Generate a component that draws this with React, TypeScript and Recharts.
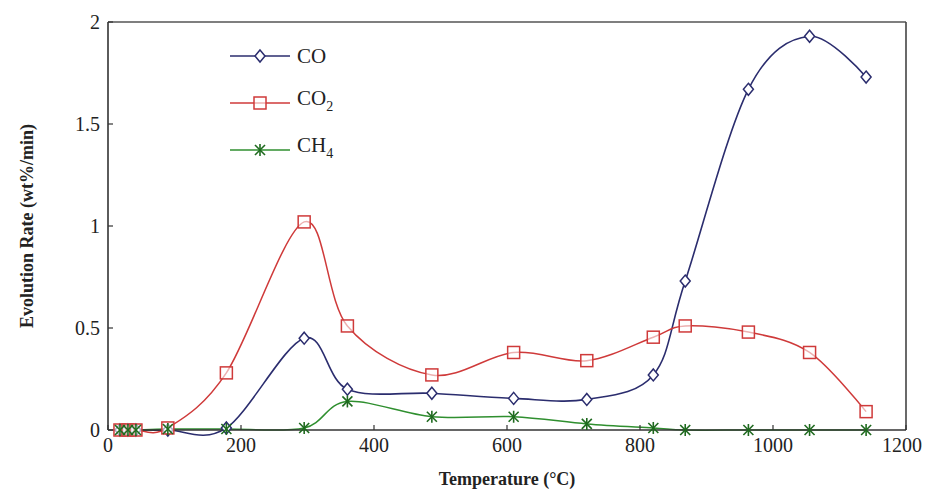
import React from 'react';
import { LineChart, Line, XAxis, YAxis, ReferenceLine, Legend } from 'recharts';

const temperatures = [18, 30, 42, 90, 178, 295, 360, 487, 610, 720, 820, 868, 963, 1055, 1140];
const coValues = [0, 0, 0, 0, 0.01, 0.45, 0.2, 0.18, 0.155, 0.15, 0.27, 0.73, 1.67, 1.93, 1.73];
const co2Values = [0, 0, 0, 0.01, 0.28, 1.02, 0.51, 0.27, 0.38, 0.34, 0.455, 0.51, 0.48, 0.38, 0.09];
const ch4Values = [0, 0, 0, 0.005, 0.005, 0.01, 0.14, 0.065, 0.065, 0.03, 0.01, 0, 0, 0, 0];
const xTicks = [0, 200, 400, 600, 800, 1000, 1200];
const yTicks = [0, 0.5, 1, 1.5, 2];
const legendOrder = ['co', 'co2', 'ch4'];

const data = temperatures.map((t, i) => ({ t, co: coValues[i], co2: co2Values[i], ch4: ch4Values[i] }));

const FONT = '"Liberation Serif", "Times New Roman", serif';
const CO_COLOR = '#2b2d6e';
const CO2_COLOR = '#cf3a3a';
const CH4_COLOR = '#2f8f2f';
const CH4_MARK = '#1f6a1f';
const CHART_W = 915;

class CardinalCurve {
  _context: any; _k: number; _line: number = NaN; _point = 0;
  _x0 = NaN; _x1 = NaN; _x2 = NaN; _y0 = NaN; _y1 = NaN; _y2 = NaN;
  constructor(context: any, tension: number) { this._context = context; this._k = (1 - tension) / 6; }
  areaStart() { this._line = 0; }
  areaEnd() { this._line = NaN; }
  lineStart() { this._x0 = this._x1 = this._x2 = this._y0 = this._y1 = this._y2 = NaN; this._point = 0; }
  seg(x: number, y: number) {
    this._context.bezierCurveTo(
      this._x1 + this._k * (this._x2 - this._x0),
      this._y1 + this._k * (this._y2 - this._y0),
      this._x2 + this._k * (this._x1 - x),
      this._y2 + this._k * (this._y1 - y),
      this._x2, this._y2);
  }
  lineEnd() {
    switch (this._point) {
      case 2: this._context.lineTo(this._x2, this._y2); break;
      case 3: this.seg(this._x1, this._y1); break;
    }
    if (this._line || (this._line !== 0 && this._point === 1)) this._context.closePath();
    this._line = 1 - this._line;
  }
  point(x: number, y: number) {
    x = +x; y = +y;
    switch (this._point) {
      case 0: this._point = 1; this._line ? this._context.lineTo(x, y) : this._context.moveTo(x, y); break;
      case 1: this._point = 2; this._x1 = x; this._y1 = y; break;
      case 2: this._point = 3; this.seg(x, y); break;
      default: this.seg(x, y); break;
    }
    this._x0 = this._x1; this._x1 = this._x2; this._x2 = x;
    this._y0 = this._y1; this._y1 = this._y2; this._y2 = y;
  }
}
const smoothCurve: any = (context: any) => new CardinalCurve(context, 0);

const Diamond = ({ cx, cy }: any) => (
  <path d={`M${cx},${cy - 6} L${cx + 5},${cy} L${cx},${cy + 6} L${cx - 5},${cy} Z`} fill="#fff" stroke={CO_COLOR} strokeWidth={1.5} />
);
const Square = ({ cx, cy }: any) => (
  <rect x={cx - 6} y={cy - 6} width={12} height={12} fill="#fff" fillOpacity={0.6} stroke={CO2_COLOR} strokeWidth={1.5} />
);
const Star = ({ cx, cy }: any) => (
  <g stroke={CH4_MARK} strokeWidth={1.6}>
    <line x1={cx - 5} y1={cy - 5} x2={cx + 5} y2={cy + 5} />
    <line x1={cx - 5} y1={cy + 5} x2={cx + 5} y2={cy - 5} />
    <line x1={cx} y1={cy - 6} x2={cx} y2={cy + 6} />
  </g>
);

const legendLabel = (key: string) => {
  if (key === 'co2') return <span>CO<sub style={{ fontSize: 14, verticalAlign: -6 }}>2</sub></span>;
  if (key === 'ch4') return <span>CH<sub style={{ fontSize: 14, verticalAlign: -6 }}>4</sub></span>;
  return <span>CO</span>;
};

const LegendContent = (props: any) => {
  const payload = (props.payload || []).slice().sort(
    (a: any, b: any) => legendOrder.indexOf(a.dataKey) - legendOrder.indexOf(b.dataKey));
  return (
    <div style={{ fontFamily: FONT, fontSize: 21, color: '#222' }}>
      {payload.map((entry: any) => {
        const key = entry.dataKey;
        const color = entry.color;
        return (
          <div key={key} style={{ display: 'flex', alignItems: 'center', height: 47 }}>
            <svg width={64} height={20} style={{ overflow: 'visible' }}>
              <line x1={2} y1={10} x2={62} y2={10} stroke={color} strokeWidth={1.5} />
              {key === 'co' && <Diamond cx={32} cy={10} />}
              {key === 'co2' && <Square cx={32} cy={10} />}
              {key === 'ch4' && <Star cx={32} cy={10} />}
            </svg>
            <div style={{ marginLeft: 5, lineHeight: '20px' }}>{legendLabel(key)}</div>
          </div>
        );
      })}
    </div>
  );
};

const tickStyle = { fontFamily: FONT, fontSize: 20, fill: '#222' };

const XTick = (props: any) => {
  const { x, y, payload } = props;
  const label = String(payload.value);
  const half = label.length * 5;
  const shift = Math.min(0, CHART_W - 1 - half - x);
  return (
    <text x={x + shift} y={y} dy="0.71em" textAnchor="middle" fontFamily={FONT} fontSize={20} fill="#222">
      {label}
    </text>
  );
};

export default function App() {
  return (
    <LineChart width={CHART_W} height={485} data={data} margin={{ top: 14, right: 17, bottom: 23, left: 0 }}>
      <XAxis
        dataKey="t" type="number" domain={[0, 1200]} ticks={xTicks} height={40}
        tickSize={-5} tickMargin={13} stroke="#333" strokeWidth={1.6} tick={XTick}
        tickLine={{ stroke: '#333', strokeWidth: 1.2 }}
        label={(p: any) => {
          const vb = p.viewBox;
          return (
            <text x={vb.x + vb.width / 2} y={vb.y + vb.height + 15} textAnchor="middle" fontFamily={FONT} fontSize={18} fontWeight="bold" fill="#222">
              Temperature (°C)
            </text>
          );
        }}
      />
      <YAxis
        type="number" domain={[0, 2]} ticks={yTicks} width={100}
        tickSize={-5} tickMargin={13} stroke="#333" strokeWidth={1.6} tick={tickStyle}
        tickLine={{ stroke: '#333', strokeWidth: 1.2 }}
        label={(p: any) => {
          const vb = p.viewBox;
          const cx = vb.x + 19;
          const cy = vb.y + vb.height / 2;
          return (
            <text x={cx} y={cy} transform={`rotate(-90, ${cx}, ${cy})`} textAnchor="middle" dominantBaseline="central" fontFamily={FONT} fontSize={18} fontWeight="bold" fill="#222">
              Evolution Rate (wt%/min)
            </text>
          );
        }}
      />
      <ReferenceLine y={2} stroke="#555" strokeWidth={1.6} />
      <ReferenceLine x={1200} stroke="#444" strokeWidth={1.6} />
      <Legend
        layout="vertical" verticalAlign="middle" align="center"
        content={LegendContent}
        wrapperStyle={{ left: 220, top: 24, width: 'auto', height: 'auto' }}
      />
      <Line dataKey="co" name="CO" type={smoothCurve} stroke={CO_COLOR} strokeWidth={1.6} isAnimationActive={false}
        dot={(p: any) => <Diamond key={`co-${p.index}`} cx={p.cx} cy={p.cy} />} />
      <Line dataKey="co2" name="CO2" type={smoothCurve} stroke={CO2_COLOR} strokeWidth={1.5} isAnimationActive={false}
        dot={(p: any) => <Square key={`co2-${p.index}`} cx={p.cx} cy={p.cy} />} />
      <Line dataKey="ch4" name="CH4" type={smoothCurve} stroke={CH4_COLOR} strokeWidth={1.5} isAnimationActive={false}
        dot={(p: any) => <Star key={`ch4-${p.index}`} cx={p.cx} cy={p.cy} />} />
    </LineChart>
  );
}
